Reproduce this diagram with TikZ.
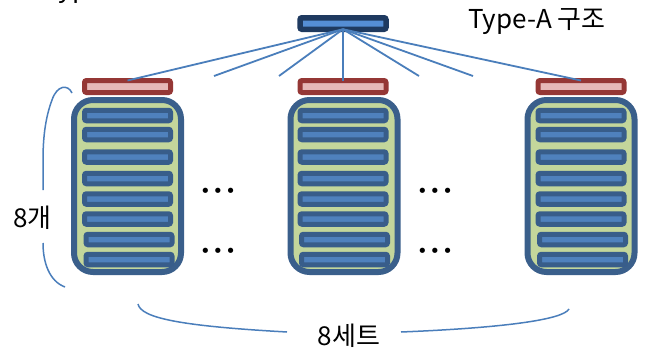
\documentclass[tikz,border=0pt]{standalone}
\usepackage{fontspec}
\setmainfont{Noto Sans CJK KR}
\newfontfamily\dotsfont{DejaVu Sans}

\definecolor{rackedge}{HTML}{3A5F8B}
\definecolor{rackfill}{HTML}{C3D69B}
\definecolor{unitedge}{HTML}{385D8A}
\definecolor{unitfill}{HTML}{4F81BD}
\definecolor{capedge}{HTML}{953735}
\definecolor{capfill}{HTML}{E6B9B8}
\definecolor{rootedge}{HTML}{1F3A60}
\definecolor{rootfill}{HTML}{558ED5}
\definecolor{wire}{HTML}{4A7EBB}

\newcommand{\dotgap}{\hspace{2pt}}

\tikzset{
  rack/.style={draw=rackedge, fill=rackfill, line width=6pt, rounded corners=19pt,
    minimum width=107pt, minimum height=172pt, inner sep=0pt, outer sep=0pt},
  unit/.style={draw=unitedge, fill=unitfill, line width=5pt, rounded corners=2pt,
    minimum width=86pt, minimum height=10.5pt, inner sep=0pt, outer sep=0pt},
  capbox/.style={draw=capedge, fill=capfill, line width=5pt, rounded corners=2pt,
    minimum width=86pt, minimum height=12pt, inner sep=0pt, outer sep=0pt},
  rootbox/.style={draw=rootedge, fill=rootfill, line width=5.5pt, rounded corners=2pt,
    minimum width=86pt, minimum height=11.5pt, inner sep=0pt, outer sep=0pt},
  link/.style={draw=wire, line width=1.8pt},
  bracket/.style={draw=wire, line width=1.5pt},
  label/.style={inner sep=0pt, font=\fontsize{26}{30}\selectfont},
  dotrow/.style={inner sep=0pt, anchor=base, font=\dotsfont\fontsize{18}{20}\selectfont}
}

\begin{document}
\begin{tikzpicture}[x=1pt, y=-1pt]
  % canvas
  \path[use as bounding box, fill=white] (0,0) rectangle (646,348);

  % text running off the top edge
  \node[label, anchor=base west] (cut) at (44,-2) {Typ};

  % racks with their caps
  \foreach \r/\rx/\cx in {L/127.5/127.5, C/344/343, R/581/581}{
    \node[rack] (rack-\r) at (\rx,186) {};
    \node[capbox] (cap-\r) at (\cx,86.5) {};
    \foreach \i/\y in {1/115.5, 2/134.5, 3/157, 4/178.5, 5/199, 6/219}{
      \node[unit] (unit-\r-\i) at (\cx,\y) {};
    }
    \foreach \i/\y in {7/239.5, 8/259.5}{
      \node[unit] (unit-\r-\i) at (\cx+1.5,\y) {};
    }
  }

  % root switch and its fan-out
  \node[rootbox] (root) at (343,23.5) {};
  \coordinate (f1) at (214,76);
  \coordinate (f2) at (279,76);
  \coordinate (f3) at (419,76);
  \coordinate (f4) at (473,76);
  \foreach \t in {cap-L.north, f1, f2, cap-C.north, f3, f4, cap-R.north}{
    \draw[link] (root.south) -- (\t);
  }

  % ellipses between racks
  \node[dotrow] (dots-1) at (218,197) {•\dotgap•\dotgap•};
  \node[dotrow] (dots-2) at (218,257) {•\dotgap•\dotgap•};
  \node[dotrow] (dots-3) at (435,197) {•\dotgap•\dotgap•};
  \node[dotrow] (dots-4) at (435,257) {•\dotgap•\dotgap•};

  % title
  \node[label, anchor=base west] (title) at (468,28.5) {Type-A 구조};

  % vertical bracket: 8 units
  \node[label, anchor=base west] (count) at (13,227) {8개};
  \draw[bracket] (72,93) .. controls (68,84) and (57,85) .. (52,100)
                 .. controls (46,116) and (43,135) .. (43,160) -- (43,190);
  \draw[bracket] (43,243) .. controls (43,262) and (49,281) .. (65,287);

  % horizontal bracket: 8 sets
  \node[label, anchor=base] (sets) at (349,345) {8세트};
  \draw[bracket] (138,304) .. controls (141,318) and (180,326) .. (287,332);
  \draw[bracket] (401,332) .. controls (500,328) and (563,320) .. (569,309);
\end{tikzpicture}
\end{document}
